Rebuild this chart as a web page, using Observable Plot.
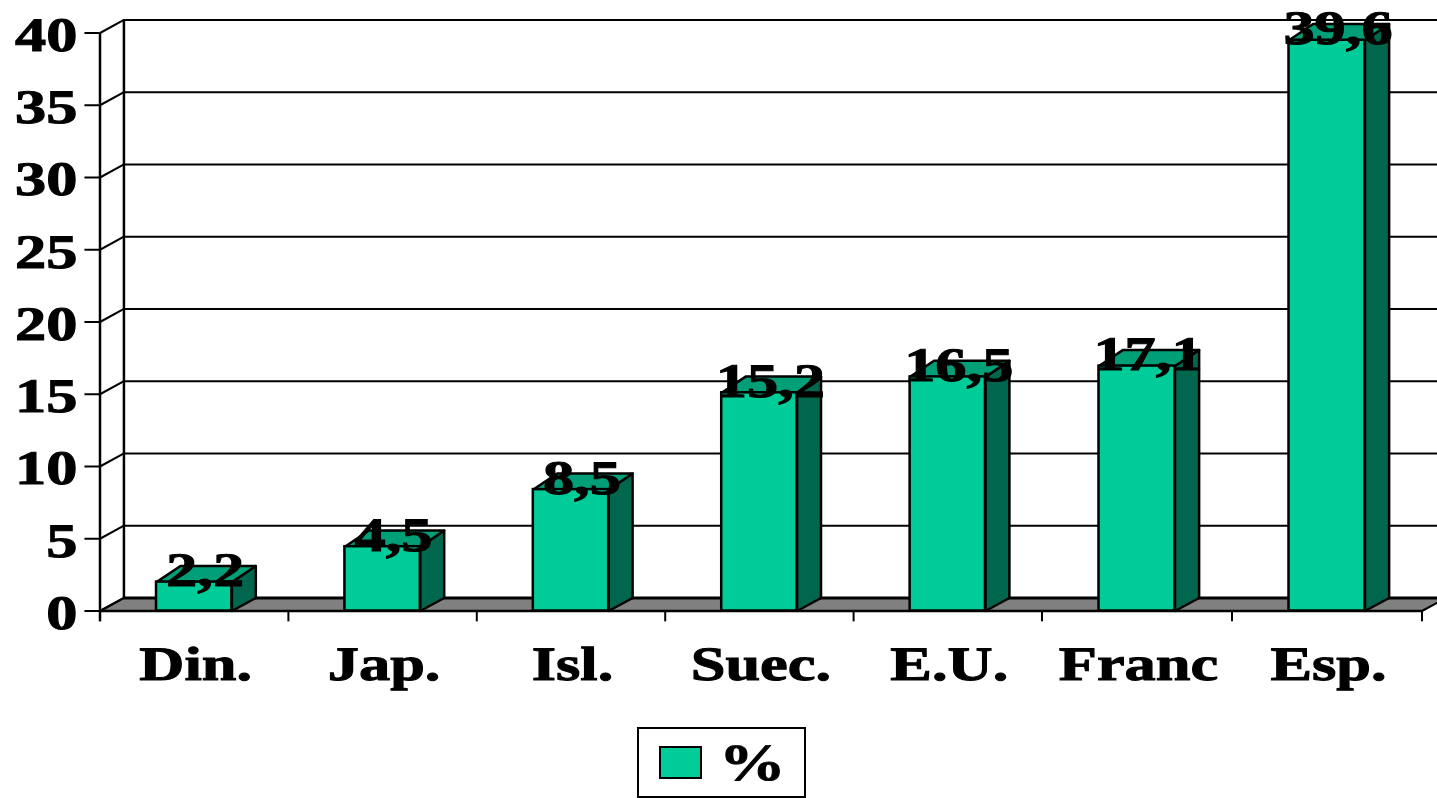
<!DOCTYPE html>
<html>
<head>
<meta charset="utf-8">
<script src="https://cdn.jsdelivr.net/npm/d3@7"></script>
<script src="https://cdn.jsdelivr.net/npm/@observablehq/plot@0.6"></script>
<style>
html,body{margin:0;padding:0;background:#fff;overflow:hidden}
svg{display:block}
#legend{box-sizing:border-box;margin:12.5px 0 0 637px;width:169px;height:71px;border:2.5px solid #000;display:flex;align-items:center;padding-left:19.5px;font:bold 52px "Liberation Serif",serif;color:#000;text-rendering:geometricPrecision}
#legend i{box-sizing:border-box;display:block;width:43px;height:33px;background:#00cc99;border:2.5px solid #000}
#legend span{display:block;margin-left:17px;transform:scaleX(1.28);transform-origin:left center;line-height:1;margin-top:2px;-webkit-text-stroke:0.8px #000}
</style>
</head>
<body>
<div id="chart"></div>
<div id="legend"><i></i><span>%</span></div>
<script>
const categories = ["Din.", "Jap.", "Isl.", "Suec.", "E.U.", "Franc", "Esp."];
const labels = ["2,2", "4,5", "8,5", "15,2", "16,5", "17,1", "39,6"];
const drawnHeights = [2.0, 4.45, 8.4, 15.1, 16.2, 16.95, 39.5];
const yTicks = [0, 5, 10, 15, 20, 25, 30, 35, 40];
const xEdges = [0, 1, 2, 3, 4, 5, 6, 7];

const frontColor = "#00cc99", topColor = "#009f77", sideColor = "#00664d", floorColor = "#808080";
const half = 0.2, dx = 0.127, dy = 0.9, barDy = 1.12, xEnd = 7.2;

const bars = categories.map((name, i) => ({
  name, i, label: labels[i], h: drawnHeights[i],
  l: i + 0.5 - half, r: i + 0.5 + half
}));
const poly = (f) => bars.flatMap(b => f(b).concat([f(b)[0]]).map(([x, y]) => ({x, y, z: b.name})));
const sides = poly(b => [[b.r, 0], [b.r + dx, dy], [b.r + dx, b.h + barDy], [b.r, b.h]]);
const tops = poly(b => [[b.l, b.h], [b.r, b.h], [b.r + dx, b.h + barDy], [b.l + dx, b.h + barDy]]);
const floor = [[0, 0], [dx, dy], [xEnd, dy], [7 + dx, dy], [7, 0], [0, 0]].map(([x, y]) => ({x, y}));

const plot = Plot.plot({
  width: 1437,
  height: 714.5,
  marginLeft: 100,
  marginRight: 15,
  marginTop: 32.5,
  marginBottom: 104,
  x: {type: "linear", domain: [0, 5, 7], range: [99.5, 1041.5, 1421.5]},
  y: {domain: [0, 40]},
  style: {fontFamily: '"Liberation Serif", serif', fontSize: "48px", fontWeight: "bold", color: "#000", background: "#fff", textRendering: "geometricPrecision"},
  marks: [
    // floor
    Plot.line(floor, {x: "x", y: "y", fill: floorColor, stroke: "#000", strokeWidth: 2}),
    // back wall grid lines and left wall diagonals
    Plot.ruleY(yTicks, {y: d => d + dy, x1: dx, x2: xEnd, stroke: "#000", strokeWidth: 2}),
    Plot.ruleY([0], {y: dy, x1: dx, x2: xEnd, stroke: "#000", strokeWidth: 3}),
    Plot.link(yTicks, {x1: 0, y1: d => d, x2: dx, y2: d => d + dy, stroke: "#000", strokeWidth: 2}),
    Plot.ruleX([dx], {y1: dy, y2: 40 + dy, stroke: "#000", strokeWidth: 2.5}),
    // axes
    Plot.axisY({ticks: yTicks, tickSize: 0, tickPadding: 23, dy: 2.5, tickFormat: d => String(d)}),
    Plot.ruleY(yTicks, {x1: -0.08, x2: 0, stroke: "#000", strokeWidth: 2}),
    Plot.ruleX([0], {y1: -0.75, y2: 40, stroke: "#000", strokeWidth: 2.5}),
    Plot.ruleY([0], {x1: 0, x2: 7, stroke: "#000", strokeWidth: 2.5}),
    Plot.ruleX(xEdges, {y1: 0, y2: -0.75, stroke: "#000", strokeWidth: 2}),
    Plot.axisX({ticks: categories.map((_, i) => i + 0.5), tickFormat: d => categories[d - 0.5], tickSize: 0, tickPadding: 34, dx: 1.5, dy: 1, anchor: "bottom"}),
    // bars
    Plot.line(sides, {x: "x", y: "y", z: "z", fill: sideColor, stroke: "#000", strokeWidth: 2.5}),
    Plot.line(tops, {x: "x", y: "y", z: "z", fill: topColor, stroke: "#000", strokeWidth: 2.5}),
    Plot.rect(bars, {x1: "l", x2: "r", y1: 0, y2: "h", fill: frontColor, stroke: "#000", strokeWidth: 2.5}),
    // value labels
    Plot.text(bars, {x: d => d.i + 0.5 + 0.05, y: "h", text: "label", lineAnchor: "bottom", dx: 1.5, dy: 4, fill: "#000"})
  ]
});
document.getElementById("chart").appendChild(plot);

// widen the glyphs to the reference's stretched type, and thicken them
plot.querySelectorAll("text").forEach(t => {
  const w = t.getComputedTextLength();
  if (w > 0) {
    t.setAttribute("textLength", (w * 1.3).toFixed(1));
    t.setAttribute("lengthAdjust", "spacingAndGlyphs");
    t.style.stroke = "#000";
    t.style.strokeWidth = "1px";
  }
});
</script>
</body>
</html>
